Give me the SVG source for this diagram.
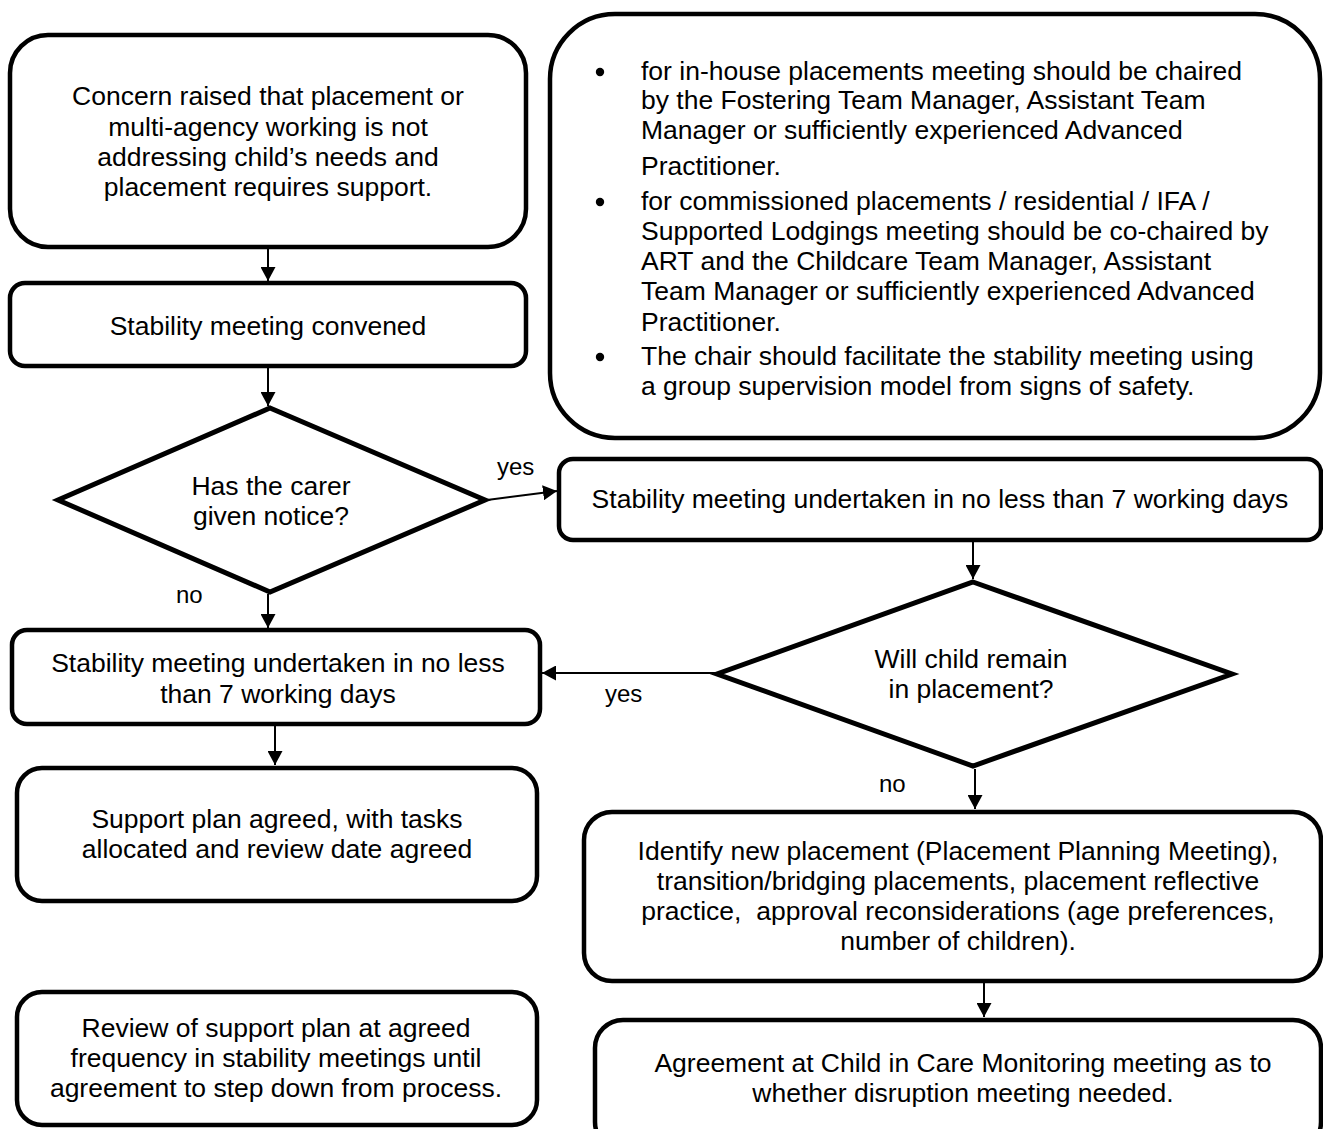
<svg xmlns="http://www.w3.org/2000/svg" width="1323" height="1129" viewBox="0 0 1323 1129">
<style>
.box{fill:#fff;stroke:#000;stroke-width:4.5}
.dia{fill:#fff;stroke:#000;stroke-width:5;stroke-linejoin:miter}
.t{font-family:"Liberation Sans",Arial,sans-serif;font-size:26.5px;fill:#000;text-anchor:middle}
.tl{font-family:"Liberation Sans",Arial,sans-serif;font-size:26.5px;fill:#000}
.lab{font-family:"Liberation Sans",Arial,sans-serif;font-size:24px;fill:#000}
.con{stroke:#000;stroke-width:2;fill:none}
</style>
<defs>
<marker id="ah" markerUnits="userSpaceOnUse" markerWidth="15" markerHeight="15" refX="14" refY="7.5" orient="auto">
<path d="M0,0 L14,7.5 L0,15 z" fill="#000"/>
</marker>
</defs>
<rect width="1323" height="1129" fill="#fff"/>
<g id="n1">
<rect class="box" x="10" y="35" width="516" height="212" rx="38"/>
<text class="t" x="268" y="105">Concern raised that placement or</text>
<text class="t" x="268" y="136">multi-agency working is not</text>
<text class="t" x="268" y="166">addressing child’s needs and</text>
<text class="t" x="268" y="196">placement requires support.</text>
</g>
<g id="n2">
<rect class="box" x="10" y="283" width="516" height="83" rx="15"/>
<text class="t" x="268" y="335">Stability meeting convened</text>
</g>
<g id="notes">
<rect class="box" x="550" y="14" width="770" height="424" rx="65"/>
<circle cx="600" cy="72" r="4.2"/>
<circle cx="600" cy="202" r="4.2"/>
<circle cx="600" cy="357" r="4.2"/>
<text class="tl" x="641" y="80">for in-house placements meeting should be chaired</text>
<text class="tl" x="641" y="109">by the Fostering Team Manager, Assistant Team</text>
<text class="tl" x="641" y="139">Manager or sufficiently experienced Advanced</text>
<text class="tl" x="641" y="175">Practitioner.</text>
<text class="tl" x="641" y="210">for commissioned placements / residential / IFA /</text>
<text class="tl" x="641" y="240">Supported Lodgings meeting should be co-chaired by</text>
<text class="tl" x="641" y="270">ART and the Childcare Team Manager, Assistant</text>
<text class="tl" x="641" y="300">Team Manager or sufficiently experienced Advanced</text>
<text class="tl" x="641" y="331">Practitioner.</text>
<text class="tl" x="641" y="365">The chair should facilitate the stability meeting using</text>
<text class="tl" x="641" y="395">a group supervision model from signs of safety.</text>
</g>
<g id="d1">
<polygon class="dia" points="270,408 485,500 270,592 58,500"/>
<text class="t" x="271" y="495">Has the carer</text>
<text class="t" x="271" y="525">given notice?</text>
</g>
<g id="n3">
<rect class="box" x="559" y="459" width="762" height="81" rx="14"/>
<text class="t" x="940" y="508">Stability meeting undertaken in no less than 7 working days</text>
</g>
<g id="d2">
<polygon class="dia" points="973,582 1232,674 973,766 717,674"/>
<text class="t" x="971" y="668">Will child remain</text>
<text class="t" x="971" y="698">in placement?</text>
</g>
<g id="n4">
<rect class="box" x="12" y="630" width="528" height="94" rx="15"/>
<text class="t" x="278" y="672">Stability meeting undertaken in no less</text>
<text class="t" x="278" y="703">than 7 working days</text>
</g>
<g id="n5">
<rect class="box" x="17" y="768" width="520" height="133" rx="25"/>
<text class="t" x="277" y="828">Support plan agreed, with tasks</text>
<text class="t" x="277" y="858">allocated and review date agreed</text>
</g>
<g id="n6">
<rect class="box" x="17" y="992" width="520" height="133" rx="25"/>
<text class="t" x="276" y="1037">Review of support plan at agreed</text>
<text class="t" x="276" y="1067">frequency in stability meetings until</text>
<text class="t" x="276" y="1097">agreement to step down from process.</text>
</g>
<g id="n7">
<rect class="box" x="584" y="812" width="737" height="169" rx="28"/>
<text class="t" x="958" y="860">Identify new placement (Placement Planning Meeting),</text>
<text class="t" x="958" y="890">transition/bridging placements, placement reflective</text>
<text class="t" x="958" y="920" xml:space="preserve">practice,  approval reconsiderations (age preferences,</text>
<text class="t" x="958" y="950">number of children).</text>
</g>
<g id="n8">
<rect class="box" x="595" y="1020" width="726" height="130" rx="28"/>
<text class="t" x="963" y="1072">Agreement at Child in Care Monitoring meeting as to</text>
<text class="t" x="963" y="1102">whether disruption meeting needed.</text>
</g>
<g id="connectors">
<line class="con" x1="268" y1="249" x2="268" y2="281" marker-end="url(#ah)"/>
<line class="con" x1="268" y1="368" x2="268" y2="406" marker-end="url(#ah)"/>
<line class="con" x1="487" y1="500" x2="557" y2="491" marker-end="url(#ah)"/>
<line class="con" x1="973" y1="542" x2="973" y2="579" marker-end="url(#ah)"/>
<line class="con" x1="715" y1="673" x2="542" y2="673" marker-end="url(#ah)"/>
<line class="con" x1="268" y1="594" x2="268" y2="628" marker-end="url(#ah)"/>
<line class="con" x1="275" y1="726" x2="275" y2="765" marker-end="url(#ah)"/>
<line class="con" x1="975" y1="769" x2="975" y2="809" marker-end="url(#ah)"/>
<line class="con" x1="984" y1="983" x2="984" y2="1017" marker-end="url(#ah)"/>
<text class="lab" x="497" y="475">yes</text>
<text class="lab" x="605" y="702">yes</text>
<text class="lab" x="176" y="603">no</text>
<text class="lab" x="879" y="792">no</text>
</g>
</svg>
